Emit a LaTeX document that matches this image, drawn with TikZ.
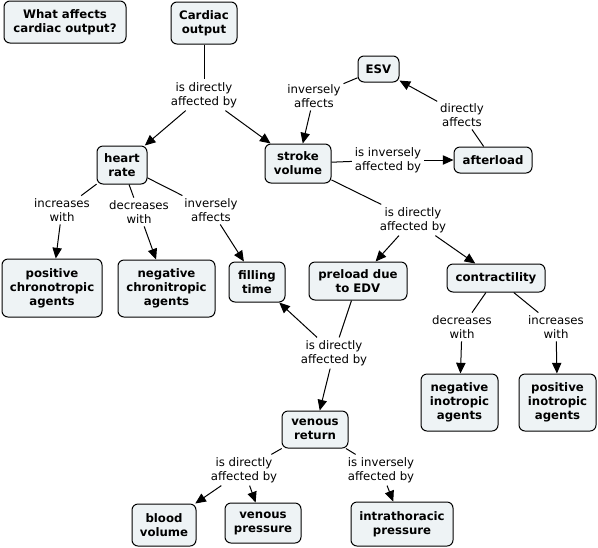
\documentclass[tikz,border=0pt]{standalone}
\usepackage{fontspec}
\setmainfont{DejaVu Sans}
\usetikzlibrary{arrows.meta}
\definecolor{boxfill}{HTML}{EEF3F5}
\begin{document}
\begin{tikzpicture}[x=0.75pt,y=-0.75pt,
  box/.style={draw=black, rounded corners=4.5pt, fill=boxfill, line width=0.75pt,
    align=center, inner sep=0pt, font=\fontsize{8.8}{10.5}\selectfont\bfseries},
  lab/.style={align=center, inner sep=2pt, font=\fontsize{8.8}{10.5}\selectfont},
  con/.style={line width=0.75pt, draw=black},
  arr/.style={con, -{Triangle[length=8pt,width=7pt]}}]
\useasboundingbox (0,0) rectangle (598,547);
% concept nodes
\node[box, minimum width=91.5pt, minimum height=31.5pt] (what) at (65,22) {What affects\\cardiac output?};
\node[box, minimum width=49.5pt, minimum height=31.5pt] (cardiac) at (204,23) {Cardiac\\output};
\node[box, minimum width=37.5pt, minimum height=28.5pt] (heart) at (122,165) {heart\\rate};
\node[box, minimum width=49.5pt, minimum height=29.25pt] (stroke) at (298,163.5) {stroke\\volume};
\node[box, minimum width=30.75pt, minimum height=19.5pt] (esv) at (378.5,69) {ESV};
\node[box, minimum width=58.5pt, minimum height=19.5pt] (after) at (493,160) {afterload};
\node[box, minimum width=75pt, minimum height=43.5pt] (posch) at (52,288) {positive\\chronotropic\\agents};
\node[box, minimum width=72.75pt, minimum height=42.75pt] (negch) at (166.5,288.5) {negative\\chronitropic\\agents};
\node[box, minimum width=42pt, minimum height=30pt] (filling) at (257,282) {filling\\time};
\node[box, minimum width=73.5pt, minimum height=28.5pt] (preload) at (358,281) {preload due\\to EDV};
\node[box, minimum width=73.5pt, minimum height=21pt] (contr) at (496,278) {contractility};
\node[box, minimum width=57.75pt, minimum height=42.75pt] (negino) at (459.5,402.5) {negative\\inotropic\\agents};
\node[box, minimum width=57.75pt, minimum height=42.75pt] (posino) at (557.5,402.5) {positive\\inotropic\\agents};
\node[box, minimum width=49.5pt, minimum height=27.75pt] (venret) at (315,429.5) {venous\\return};
\node[box, minimum width=48pt, minimum height=31.5pt] (blood) at (164,525) {blood\\volume};
\node[box, minimum width=57pt, minimum height=30pt] (venpr) at (263,523) {venous\\pressure};
\node[box, minimum width=76.5pt, minimum height=33pt] (intra) at (402,524) {intrathoracic\\pressure};
% linking phrases
\node[lab] (lco) at (204,95) {is directly\\affected by};
\node[lab] (lesv) at (314,96) {inversely\\affects};
\node[lab] (laft) at (462,115) {directly\\affects};
\node[lab] (lsva) at (388,160) {is inversely\\affected by};
\node[lab] (lsvd) at (413,220) {is directly\\affected by};
\node[lab] (linc) at (62,210) {increases\\with};
\node[lab] (ldec) at (139,212) {decreases\\with};
\node[lab] (linv) at (211,210) {inversely\\affects};
\node[lab] (lpre) at (334,353) {is directly\\affected by};
\node[lab] (lcd) at (462,327) {decreases\\with};
\node[lab] (lci) at (556,327) {increases\\with};
\node[lab] (lvrd) at (244,470) {is directly\\affected by};
\node[lab] (lvri) at (381,470) {is inversely\\affected by};
% connectors
\draw[con] (cardiac) -- (lco);
\draw[arr] (lco) -- (heart);
\draw[arr] (lco) -- (stroke);
\draw[con] (esv) -- (lesv);
\draw[arr] (lesv) -- (stroke);
\draw[con] (after) -- (laft);
\draw[arr] (laft) -- (esv);
\draw[con] (stroke) -- (lsva);
\draw[arr] (lsva) -- (after);
\draw[con] (stroke) -- (lsvd);
\draw[arr] (lsvd) -- (preload);
\draw[arr] (lsvd) -- (contr);
\draw[con] (heart) -- (linc);
\draw[arr] (linc) -- (posch);
\draw[con] (heart) -- (ldec);
\draw[arr] (ldec) -- (negch);
\draw[con] (heart) -- (linv);
\draw[arr] (linv) -- (filling);
\draw[con] (preload) -- (lpre);
\draw[arr] (lpre) -- (filling);
\draw[arr] (lpre) -- (venret);
\draw[con] (contr) -- (lcd);
\draw[arr] (lcd) -- (negino);
\draw[con] (contr) -- (lci);
\draw[arr] (lci) -- (posino);
\draw[con] (venret) -- (lvrd);
\draw[arr] (lvrd) -- (blood);
\draw[arr] (lvrd) -- (venpr);
\draw[con] (venret) -- (lvri);
\draw[arr] (lvri) -- (intra);
\end{tikzpicture}
\end{document}
